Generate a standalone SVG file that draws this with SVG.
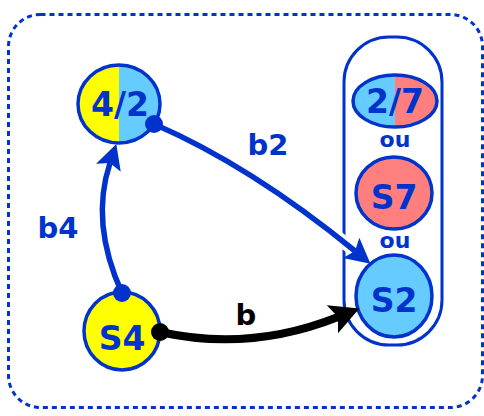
<svg xmlns="http://www.w3.org/2000/svg" width="484" height="416" viewBox="0 0 484 416">
  <defs>
    <style>
      .node { stroke: #0033cc; stroke-width: 3.5; }
      .lbl { font-family: "DejaVu Sans", "Liberation Sans", sans-serif; font-weight: bold; text-anchor: middle; fill: #0033cc; }
      .state { font-size: 33px; }
      .ou { font-size: 22px; }
      .edge-lbl { font-size: 29px; }
      .halo { fill: none; stroke: #ffffff; stroke-width: 13; }
      .blue-edge { fill: none; stroke: #0033cc; stroke-width: 5.5; }
      .black-edge { fill: none; stroke: #000000; stroke-width: 8; }
    </style>
    <clipPath id="clip42"><ellipse cx="119" cy="104" rx="41" ry="39"/></clipPath>
    <clipPath id="clip27"><ellipse cx="395" cy="101" rx="42" ry="26"/></clipPath>
    <marker id="arrowBlue" markerUnits="userSpaceOnUse" markerWidth="28" markerHeight="28" refX="5" refY="13" orient="auto" viewBox="0 0 28 28">
      <path d="M0,0 L25,13 L0,26 L5,13 z" fill="#0033cc"/>
    </marker>
    <marker id="arrowBlack" markerUnits="userSpaceOnUse" markerWidth="32" markerHeight="32" refX="6" refY="15" orient="auto" viewBox="0 0 32 32">
      <path d="M0,0 L29,15 L0,30 L6,15 z" fill="#000000"/>
    </marker>
  </defs>

  <!-- outer frame -->
  <rect x="8.5" y="14.5" width="474" height="393" rx="32" ry="32" fill="none" stroke="#0033cc" stroke-width="3" stroke-dasharray="5 4"/>

  <!-- container of alternative targets -->
  <g id="alternatives">
    <rect x="344" y="37" width="98" height="308" rx="45" ry="45" fill="none" stroke="#0033cc" stroke-width="3"/>
    <text class="lbl ou" x="395" y="147">ou</text>
    <text class="lbl ou" x="395" y="248">ou</text>
  </g>

  <g id="node-2-7">
    <g clip-path="url(#clip27)">
      <rect x="350" y="70" width="45" height="62" fill="#66ccff"/>
      <rect x="395" y="70" width="45" height="62" fill="#ff7f7f"/>
    </g>
    <ellipse class="node" cx="395" cy="101" rx="42" ry="26" fill="none"/>
    <text class="lbl state" x="395" y="113">2/7</text>
  </g>

  <g id="node-S7">
    <ellipse class="node" cx="394" cy="193" rx="38" ry="36" fill="#ff7f7f"/>
    <text class="lbl state" x="394" y="209">S7</text>
  </g>

  <g id="node-S2">
    <ellipse class="node" cx="394" cy="296" rx="38" ry="41" fill="#66ccff"/>
    <text class="lbl state" x="394" y="312">S2</text>
  </g>

  <g id="node-4-2">
    <g clip-path="url(#clip42)">
      <rect x="76" y="63" width="43" height="82" fill="#ffff00"/>
      <rect x="119" y="63" width="43" height="82" fill="#66ccff"/>
    </g>
    <ellipse class="node" cx="119" cy="104" rx="41" ry="39" fill="none"/>
    <text class="lbl state" x="120" y="116">4/2</text>
  </g>

  <g id="node-S4">
    <ellipse class="node" cx="122" cy="331" rx="38" ry="39" fill="#ffff00"/>
    <text class="lbl state" x="122" y="350">S4</text>
  </g>

  <!-- transitions -->
  <g id="connectors">
    <path class="halo" d="M154,124 Q251,166 355,251"/>
    <path class="blue-edge" d="M154,124 Q251,166 355,251" marker-end="url(#arrowBlue)"/>
    <circle cx="154" cy="124" r="9" fill="#0033cc"/>

    <path class="blue-edge" d="M122,293 Q90,223 110,163" marker-end="url(#arrowBlue)"/>
    <circle cx="122" cy="293" r="9" fill="#0033cc"/>

    <path class="black-edge" d="M160,332 Q250,352 338,317" marker-end="url(#arrowBlack)"/>
    <circle cx="160" cy="332" r="9" fill="#000000"/>

    <text class="lbl edge-lbl" x="58" y="238">b4</text>
    <text class="lbl edge-lbl" x="268" y="155">b2</text>
    <text class="lbl edge-lbl" x="246" y="325" style="fill:#000000">b</text>
  </g>
</svg>
